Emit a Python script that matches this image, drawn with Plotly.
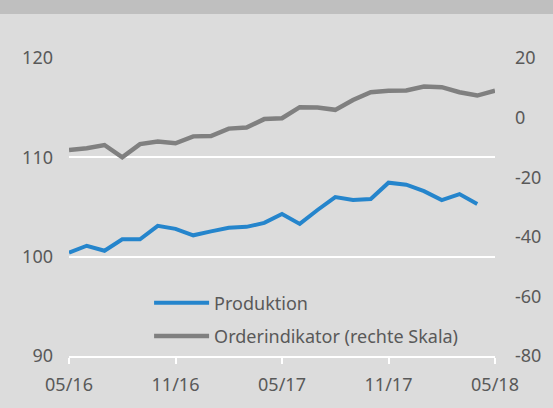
import plotly.graph_objects as go

months = ["05/16","06/16","07/16","08/16","09/16","10/16","11/16","12/16",
          "01/17","02/17","03/17","04/17","05/17","06/17","07/17","08/17",
          "09/17","10/17","11/17","12/17","01/18","02/18","03/18","04/18","05/18"]
produktion = [100.4, 101.1, 100.6, 101.75, 101.75, 103.1, 102.8, 102.15,
              102.55, 102.9, 103.0, 103.4, 104.3, 103.3, 104.7, 106.0,
              105.7, 105.8, 107.45, 107.25, 106.6, 105.7, 106.3, 105.3]
orderindikator = [-10.9, -10.3, -9.2, -13.3, -8.9, -8.0, -8.6, -6.3,
                  -6.2, -3.7, -3.3, -0.5, -0.2, 3.5, 3.4, 2.6,
                  5.9, 8.5, 9.0, 9.1, 10.4, 10.2, 8.5, 7.4, 9.0]
x_ticks = ["05/16", "11/16", "05/17", "11/17", "05/18"]
left_ticks = [90, 100, 110, 120]
right_ticks = [-80, -60, -40, -20, 0, 20]
right_labels = ["-80", "-60", "-40", "-20", "0", "20"]

TXT = "#595959"
FONT = "Noto Sans"

fig = go.Figure()
fig.add_trace(go.Scatter(x=months[:len(produktion)], y=produktion, name="Produktion",
                         legendgroup="a", mode="lines",
                         line=dict(color="#2585CC", width=4)))
fig.add_trace(go.Scatter(x=months, y=orderindikator, name="Orderindikator (rechte Skala)",
                         legendgroup="b", mode="lines",
                         line=dict(color="#808080", width=4.5), yaxis="y2"))

fig.update_layout(
    width=553, height=408,
    margin=dict(l=69, r=58, t=58, b=52, autoexpand=False),
    paper_bgcolor="#DCDCDC", plot_bgcolor="#DCDCDC",
    font=dict(family=FONT, size=18, color=TXT),
    showlegend=True,
    legend=dict(x=0.188, y=0.24, xanchor="left", yanchor="top",
                bgcolor="rgba(0,0,0,0)", font=dict(size=18, color=TXT),
                tracegroupgap=7, traceorder="grouped", itemwidth=55),
    xaxis=dict(type="category", categoryorder="array", categoryarray=months,
               range=[0, 24], tickvals=x_ticks, ticktext=x_ticks,
               showgrid=False, showline=True, linecolor="white", linewidth=2,
               ticks="outside", tickcolor="white", ticklen=6, tickwidth=2,
               ticklabelstandoff=5,
               zeroline=False, tickfont=dict(size=18, color=TXT)),
    yaxis=dict(range=[90, 120], tickvals=left_ticks, showgrid=True,
               gridcolor="white", gridwidth=2, zeroline=False, showline=False,
               ticks="", ticklabelstandoff=15, tickfont=dict(size=18, color=TXT)),
    yaxis2=dict(range=[-80, 20], tickvals=right_ticks, ticktext=right_labels,
                overlaying="y", side="right",
                showgrid=False, zeroline=False, showline=False, ticks="",
                ticklabelstandoff=19, tickfont=dict(size=18, color=TXT)),
    shapes=[dict(type="rect", xref="paper", yref="paper",
                 x0=-69/426, x1=1+58/426, y0=1+44/298, y1=1+58/298,
                 fillcolor="#BFBFBF", line=dict(width=0), layer="below")],
)

fig.write_html("out.html", config={"displayModeBar": False},
               post_script="document.body.style.margin='0';document.body.style.background='#DCDCDC';")
